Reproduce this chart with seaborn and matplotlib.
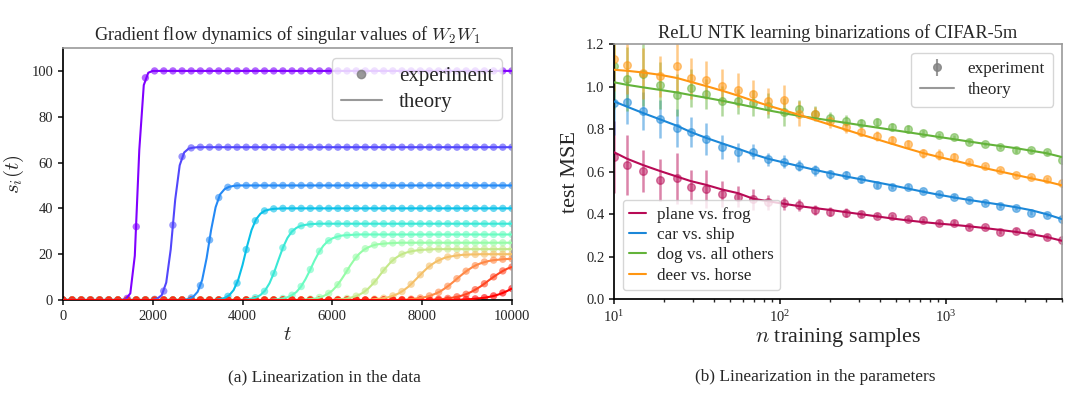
import numpy as np
import pandas as pd
import seaborn as sns
import matplotlib.pyplot as plt

# ---------------- left panel: gradient flow of singular values ----------------
T_MAX = 10000
N_EXP = 50           # experiment samples between 0 and T_MAX
THEORY_STEP = 100    # theory grid spacing

plateaus = [100, 66.7, 50, 40, 33.3, 28.6, 25, 22.2, 20, 18.2, 16.7, 15.4]

# theory: first time where the curve leaves zero, then the values read along the rise
theory_start = [1400, 2100, 2800, 3500, 4100, 4700, 5400, 6100, 6900, 7700, 8300, 8900]
theory_rise = [
    [0.4, 2.9, 19.3, 65.5, 93.8, 99.2],
    [0.6, 2.1, 7.6, 22.1, 43.8, 58.8, 64.4, 66.1, 66.5],
    [0.5, 1.4, 3.6, 8.7, 18.3, 30.6, 40.5, 46.1, 48.4, 49.4, 49.8],
    [0.4, 0.9, 2.0, 4.3, 8.6, 15.3, 23.4, 30.5, 35.2, 37.7, 39.0, 39.5, 39.8, 39.9],
    [0.3, 0.6, 1.1, 2.2, 4.1, 7.3, 11.9, 17.5, 22.9, 27.1, 29.9, 31.5, 32.4, 32.8, 33.1, 33.2],
    [0.2, 0.4, 0.7, 1.2, 2.1, 3.5, 5.8, 9.0, 12.9, 17.1, 20.8, 23.7, 25.7, 26.9, 27.6, 28.1,
     28.3, 28.4, 28.5],
    [0.2, 0.4, 0.6, 1.0, 1.7, 2.7, 4.1, 6.2, 8.9, 11.9, 15.1, 17.9, 20.2, 21.9, 23.0, 23.8,
     24.3, 24.5, 24.7, 24.8, 24.9],
    [0.3, 0.4, 0.6, 1.0, 1.5, 2.3, 3.4, 5.0, 7.0, 9.3, 11.9, 14.3, 16.5, 18.2, 19.5, 20.4,
     21.0, 21.4, 21.7, 21.9, 22.0, 22.1],
    [0.3, 0.5, 0.7, 1.0, 1.5, 2.2, 3.1, 4.4, 5.9, 7.8, 9.8, 11.8, 13.7, 15.3, 16.6, 17.6,
     18.4, 18.9, 19.2, 19.5, 19.7, 19.8, 19.9, 19.9],
    [0.3, 0.5, 0.7, 1.0, 1.4, 2.0, 2.8, 3.7, 5.0, 6.4, 8.0, 9.7, 11.3, 12.8, 14.1, 15.2,
     16.0, 16.6, 17.1, 17.4, 17.6, 17.8, 17.9, 18.0],
    [0.3, 0.4, 0.5, 0.8, 1.1, 1.5, 2.0, 2.7, 3.6, 4.7, 5.9, 7.3, 8.8, 10.2, 11.5, 12.7,
     13.7, 14.4],
    [0.2, 0.3, 0.4, 0.6, 0.8, 1.0, 1.4, 1.8, 2.4, 3.1, 4.0, 5.0],
]

# experiment: index of first sample off zero, then the sampled values along the rise
exp_start = [7, 10, 14, 18, 21, 24, 27, 30, 34, 37, 41, 44]
exp_rise = [
    [0.7, 32.0, 97.0],
    [0.3, 3.9, 32.7, 62.6, 66.4],
    [0.9, 6.3, 26.2, 44.7, 49.2, 49.9],
    [1.6, 7.4, 22.0, 34.6, 38.9, 39.8],
    [1.0, 3.8, 11.6, 22.8, 29.9, 32.4, 33.1],
    [0.7, 2.1, 5.9, 13.3, 21.3, 25.9, 27.7, 28.3, 28.5],
    [0.4, 1.1, 2.9, 6.7, 12.8, 18.7, 22.4, 24.0, 24.6, 24.9],
    [0.3, 0.7, 1.7, 3.9, 7.9, 13.0, 17.3, 20.0, 21.3, 21.8, 22.0],
    [0.4, 0.8, 1.8, 3.7, 6.9, 11.0, 14.8, 17.3, 18.8, 19.4, 19.8, 19.9],
    [0.2, 0.4, 0.9, 1.8, 3.4, 6.0, 9.3, 12.6, 15.0, 16.6, 17.4, 17.8, 18.0],
    [0.4, 0.7, 1.4, 2.5, 4.5, 7.1, 10.1, 12.7, 14.4],
    [0.3, 0.5, 1.0, 1.8, 3.1, 5.0],
]

# ---------------- right panel: NTK learning curves ----------------
n_samples = [10, 12, 15, 19, 24, 29, 36, 45, 56, 69, 85, 106, 131, 162, 201, 249, 309, 383,
             474, 588, 728, 902, 1118, 1385, 1716, 2126, 2634, 3264, 4045, 5000]
tasks = ["plane vs. frog", "car vs. ship", "dog vs. all others", "deer vs. horse"]
task_colors = ["#b80a55", "#1b87d8", "#63b33a", "#ff9612"]

exp_mse = {
    "plane vs. frog": [0.667, 0.631, 0.603, 0.561, 0.569, 0.526, 0.518, 0.495, 0.482, 0.470,
                       0.455, 0.451, 0.443, 0.419, 0.411, 0.407, 0.400, 0.391, 0.391, 0.377,
                       0.372, 0.360, 0.360, 0.341, 0.338, 0.317, 0.322, 0.309, 0.294, 0.279],
    "car vs. ship": [0.922, 0.925, 0.886, 0.848, 0.804, 0.787, 0.752, 0.715, 0.691, 0.694,
                     0.658, 0.647, 0.627, 0.605, 0.587, 0.584, 0.564, 0.537, 0.529, 0.529,
                     0.510, 0.495, 0.482, 0.466, 0.451, 0.440, 0.427, 0.407, 0.396, 0.376],
    "dog vs. all others": [1.095, 1.035, 1.060, 1.005, 0.961, 0.993, 0.964, 0.933, 0.930, 0.922,
                           0.910, 0.880, 0.895, 0.872, 0.851, 0.840, 0.828, 0.831, 0.809, 0.800,
                           0.781, 0.773, 0.762, 0.741, 0.730, 0.715, 0.699, 0.699, 0.690, 0.654],
    "deer vs. horse": [1.129, 1.103, 1.063, 1.048, 1.098, 1.038, 1.032, 1.004, 0.985, 0.964,
                       0.933, 0.938, 0.872, 0.872, 0.836, 0.809, 0.788, 0.768, 0.749, 0.730,
                       0.686, 0.679, 0.667, 0.646, 0.624, 0.608, 0.584, 0.576, 0.563, 0.544],
}
exp_err = {
    "plane vs. frog": [0.17, 0.14, 0.10, 0.10, 0.12, 0.08, 0.09, 0.06, 0.05, 0.05,
                       0.035, 0.03, 0.03, 0.025, 0.02, 0.02, 0.015, 0.012, 0.01, 0.01,
                       0.01, 0.01, 0.01, 0.01, 0.01, 0.01, 0.01, 0.01, 0.01, 0.01],
    "car vs. ship": [0.15, 0.10, 0.09, 0.09, 0.09, 0.07, 0.075, 0.055, 0.045, 0.035,
                     0.03, 0.03, 0.025, 0.025, 0.02, 0.02, 0.02, 0.015, 0.01, 0.01,
                     0.01, 0.01, 0.01, 0.01, 0.01, 0.01, 0.01, 0.01, 0.01, 0.01],
    "dog vs. all others": [0.20, 0.15, 0.15, 0.11, 0.10, 0.09, 0.07, 0.07, 0.06, 0.06,
                           0.06, 0.065, 0.04, 0.035, 0.03, 0.025, 0.02, 0.02, 0.02, 0.02,
                           0.015, 0.01, 0.01, 0.01, 0.01, 0.01, 0.01, 0.01, 0.01, 0.01],
    "deer vs. horse": [0.15, 0.14, 0.12, 0.095, 0.12, 0.095, 0.09, 0.08, 0.08, 0.067,
                       0.06, 0.07, 0.06, 0.03, 0.03, 0.03, 0.02, 0.025, 0.02, 0.02,
                       0.02, 0.025, 0.02, 0.01, 0.01, 0.01, 0.01, 0.01, 0.01, 0.01],
}
theory_mse = {
    "plane vs. frog": [0.691, 0.660, 0.630, 0.602, 0.576, 0.555, 0.537, 0.515, 0.498, 0.472,
                       0.460, 0.448, 0.437, 0.428, 0.419, 0.409, 0.399, 0.389, 0.379, 0.370,
                       0.362, 0.355, 0.349, 0.342, 0.334, 0.325, 0.316, 0.305, 0.292, 0.274],
    "car vs. ship": [0.930, 0.905, 0.875, 0.845, 0.815, 0.786, 0.758, 0.732, 0.707, 0.682,
                     0.660, 0.642, 0.625, 0.608, 0.592, 0.577, 0.563, 0.549, 0.535, 0.520,
                     0.505, 0.491, 0.478, 0.466, 0.455, 0.444, 0.432, 0.418, 0.399, 0.376],
    "dog vs. all others": [1.020, 1.008, 0.996, 0.984, 0.972, 0.960, 0.947, 0.933, 0.918, 0.903,
                           0.888, 0.874, 0.862, 0.851, 0.840, 0.829, 0.818, 0.807, 0.796, 0.785,
                           0.774, 0.763, 0.752, 0.741, 0.730, 0.720, 0.710, 0.698, 0.686, 0.668],
    "deer vs. horse": [1.079, 1.074, 1.066, 1.055, 1.040, 1.022, 1.002, 0.980, 0.957, 0.933,
                       0.910, 0.888, 0.866, 0.843, 0.820, 0.797, 0.774, 0.752, 0.730, 0.708,
                       0.687, 0.669, 0.652, 0.634, 0.616, 0.600, 0.584, 0.568, 0.553, 0.535],
}


def build_curve(n_points, start_idx, rise, plateau):
    vals = [0.0] * start_idx + list(rise)
    vals += [plateau] * (n_points - len(vals))
    return vals


sns.set_theme(style="ticks")
plt.rcParams["font.family"] = ["Liberation Serif", "DejaVu Serif"]
plt.rcParams["mathtext.fontset"] = "cm"
plt.rcParams["xtick.major.size"] = 3.5
plt.rcParams["ytick.major.size"] = 3.5
plt.rcParams["xtick.minor.size"] = 2
plt.rcParams["xtick.labelsize"] = 10.5
plt.rcParams["ytick.labelsize"] = 10.5
plt.rcParams["axes.edgecolor"] = "black"

fig = plt.figure(figsize=(10.8, 3.96), dpi=100)
ax1 = fig.add_axes([0.0583, 0.2424, 0.4157, 0.6364])
ax2 = fig.add_axes([0.5685, 0.2449, 0.4148, 0.6439])

# ---- left panel ----
theory_t = np.arange(0, T_MAX + 1, THEORY_STEP)
exp_t = np.linspace(0, T_MAX, N_EXP)
rows_th, rows_ex = [], []
for i, p in enumerate(plateaus):
    th = build_curve(len(theory_t), theory_start[i] // THEORY_STEP, theory_rise[i], p)
    ex = build_curve(N_EXP, exp_start[i], exp_rise[i], p)
    rows_th += [{"t": t, "s": v, "curve": str(i)} for t, v in zip(theory_t, th)]
    rows_ex += [{"t": t, "s": v, "curve": str(i)} for t, v in zip(exp_t, ex)]
df_th = pd.DataFrame(rows_th)
df_ex = pd.DataFrame(rows_ex)

rainbow = [tuple(c) for c in plt.cm.rainbow(np.linspace(0, 1, len(plateaus)))]
order = [str(i) for i in range(len(plateaus))]

sns.scatterplot(data=df_ex, x="t", y="s", hue="curve", hue_order=order, palette=rainbow,
                s=28, alpha=0.6, linewidth=0, legend=False, ax=ax1, zorder=2)
sns.lineplot(data=df_th, x="t", y="s", hue="curve", hue_order=order, palette=rainbow,
             linewidth=1.5, legend=False, ax=ax1, zorder=3)

ax1.set_xlim(0, T_MAX)
ax1.set_ylim(0, 110)
ax1.set_xticks(range(0, T_MAX + 1, 2000))
ax1.set_yticks(range(0, 101, 20))
ax1.set_xlabel("$t$", fontsize=15, labelpad=2)
ax1.set_ylabel("$s_i(t)$", fontsize=15, labelpad=4)
ax1.set_title("Gradient flow dynamics of singular values of $W_2W_1$", fontsize=13.2, pad=6)

h_exp1 = plt.Line2D([], [], marker="o", ls="none", color="grey", alpha=0.8, markersize=6)
h_th1 = plt.Line2D([], [], color="grey", alpha=0.8, lw=1.5)
ax1.legend([h_exp1, h_th1], ["experiment", "theory"], loc="upper right", fontsize=15,
           frameon=True, framealpha=0.8, edgecolor="0.8", borderpad=0.4,
           handlelength=2.0, labelspacing=0.3)

# ---- right panel ----
for task, col in zip(tasks, task_colors):
    ax2.errorbar(n_samples, exp_mse[task], yerr=exp_err[task], fmt="o", color=col,
                 ms=5.5, alpha=0.5, elinewidth=1.8, capsize=0, zorder=2)

rows_mse = []
for task in tasks:
    rows_mse += [{"n": n, "mse": v, "task": task} for n, v in zip(n_samples, theory_mse[task])]
df_mse = pd.DataFrame(rows_mse)
sns.lineplot(data=df_mse, x="n", y="mse", hue="task", hue_order=tasks, palette=task_colors,
             linewidth=1.5, ax=ax2, zorder=3)

ax2.set_xscale("log")
ax2.set_xlim(10, 5000)
ax2.set_ylim(0, 1.2)
ax2.set_yticks(np.arange(0, 1.21, 0.2))
ax2.set_yticklabels([f"{v:.1f}" for v in np.arange(0, 1.21, 0.2)])
ax2.set_xlabel("$n$ training samples", fontsize=16, labelpad=1)
ax2.set_ylabel("test MSE", fontsize=16, labelpad=4)
ax2.set_title("ReLU NTK learning binarizations of CIFAR-5m", fontsize=13.2, pad=4)

task_handles = [plt.Line2D([], [], color=c, lw=1.5) for c in task_colors]
leg_tasks = ax2.legend(task_handles, tasks, loc="lower left", fontsize=12.3, frameon=True,
                       framealpha=0.8, edgecolor="0.8", handlelength=1.0, handletextpad=0.6,
                       labelspacing=0.25, borderpad=0.4)
ax2.add_artist(leg_tasks)
h_exp2 = ax2.errorbar([np.nan], [np.nan], yerr=[np.nan], fmt="o", color="grey", ms=5.5,
                      alpha=0.8, elinewidth=1.5, capsize=0)
h_th2 = plt.Line2D([], [], color="grey", alpha=0.8, lw=1.5)
ax2.legend([h_exp2, h_th2], ["experiment", "theory"], loc="upper right", fontsize=12.3,
           frameon=True, framealpha=0.8, edgecolor="0.8", handlelength=2.0,
           labelspacing=0.3, borderpad=0.5)

for ax in (ax1, ax2):
    for side in ("top", "right"):
        ax.spines[side].set_color("0.6")
        ax.spines[side].set_linewidth(1.2)

fig.text(324 / 1080, 1 - 377 / 396, "(a) Linearization in the data", fontsize=12.4,
         ha="center", va="center")
fig.text(815 / 1080, 1 - 377 / 396, "(b) Linearization in the parameters", fontsize=12.4,
         ha="center", va="center")

fig.savefig("out.png", dpi=100)
